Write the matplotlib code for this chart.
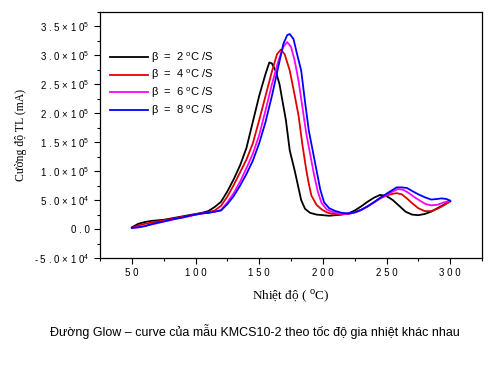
import matplotlib
matplotlib.use("Agg")
import matplotlib.pyplot as plt
from matplotlib.ticker import MultipleLocator, FuncFormatter

plt.rcParams["font.family"] = ["Liberation Sans", "DejaVu Sans"]
plt.rcParams["mathtext.fontset"] = "custom"
plt.rcParams["mathtext.rm"] = "Liberation Sans"
plt.rcParams["mathtext.it"] = "Liberation Sans:italic"

# nhiệt độ (°C) và cường độ TL (x1e4) của từng tốc độ gia nhiệt
t_b2 = [50, 55, 60, 65, 70, 75, 80, 85, 90, 95, 100, 105, 110, 115, 120, 125, 130, 135, 140,
        145, 150, 155, 158, 160, 163, 166, 168, 171, 174, 178, 181, 183, 186, 190, 195, 200,
        205, 210, 215, 220, 225, 230, 235, 240, 245, 250, 255, 260, 265, 270, 275, 280, 285,
        290, 295, 300]
i_b2 = [0.3, 0.9, 1.2, 1.4, 1.5, 1.6, 1.8, 2.0, 2.2, 2.4, 2.6, 2.8, 3.1, 3.8, 4.7, 6.5, 8.6,
        11.0, 14.0, 18.5, 23.0, 26.8, 28.8, 28.6, 27.3, 25.0, 22.5, 18.8, 13.6, 10.0, 7.0, 5.0,
        3.5, 2.8, 2.5, 2.4, 2.3, 2.4, 2.5, 2.7, 3.2, 3.9, 4.7, 5.4, 5.9, 5.7, 5.0, 4.0, 3.0,
        2.5, 2.4, 2.6, 3.0, 3.6, 4.2, 4.8]

t_b4 = [50, 55, 60, 65, 70, 75, 80, 85, 90, 95, 100, 105, 110, 115, 120, 125, 130, 135, 140,
        145, 150, 155, 160, 164, 167, 170, 174, 178, 181, 184, 187, 189, 191, 195, 199, 203,
        206, 210, 215, 220, 225, 230, 235, 240, 245, 250, 255, 258, 262, 266, 270, 275, 280,
        285, 290, 295, 300]
i_b4 = [0.2, 0.6, 0.9, 1.1, 1.3, 1.5, 1.7, 1.9, 2.1, 2.3, 2.5, 2.7, 2.9, 3.2, 4.0, 5.6, 7.6,
        9.8, 12.0, 14.8, 18.8, 23.0, 27.2, 30.2, 31.0, 30.2, 27.4, 23.0, 19.5, 14.5, 10.2,
        7.8, 5.8, 4.2, 3.4, 2.9, 2.7, 2.6, 2.6, 2.6, 2.9, 3.3, 3.9, 4.6, 5.3, 5.8, 6.1, 6.2,
        6.0, 5.3, 4.5, 3.6, 3.1, 3.1, 3.5, 4.1, 4.8]

t_b6 = [50, 55, 60, 65, 70, 75, 80, 85, 90, 95, 100, 105, 110, 115, 120, 125, 130, 135, 140,
        145, 150, 155, 160, 165, 169, 172, 175, 178, 181, 184, 187, 190, 193, 196, 199, 203,
        207, 212, 218, 222, 226, 230, 235, 240, 245, 250, 255, 259, 263, 267, 272, 277, 281,
        285, 290, 295, 300]
i_b6 = [0.2, 0.3, 0.5, 0.8, 1.0, 1.3, 1.5, 1.8, 2.0, 2.2, 2.5, 2.7, 2.8, 3.0, 3.3, 4.6, 6.2,
        8.2, 10.5, 13.0, 16.2, 20.5, 25.0, 29.0, 31.5, 32.3, 31.5, 29.0, 25.5, 21.0, 16.5,
        13.0, 9.5, 6.5, 4.5, 3.4, 3.0, 2.7, 2.6, 2.7, 2.9, 3.3, 3.9, 4.6, 5.3, 5.9, 6.5, 6.9,
        6.8, 6.3, 5.5, 4.8, 4.3, 4.1, 4.2, 4.6, 4.9]

t_b8 = [50, 55, 60, 65, 70, 75, 80, 85, 90, 95, 100, 105, 110, 115, 120, 125, 130, 135, 140,
        145, 150, 155, 160, 165, 169, 172, 174, 177, 180, 183, 186, 189, 192, 195, 198, 201,
        205, 210, 215, 220, 225, 230, 235, 240, 245, 250, 255, 258, 262, 266, 270, 275, 280,
        285, 290, 293, 297, 300]
i_b8 = [0.2, 0.3, 0.5, 0.8, 1.1, 1.3, 1.6, 1.8, 2.0, 2.3, 2.5, 2.7, 2.8, 3.0, 3.2, 4.3, 5.7,
        7.5, 9.5, 11.8, 14.8, 18.5, 23.0, 28.0, 32.0, 33.5, 33.7, 32.8, 30.0, 27.4, 22.0,
        17.0, 13.6, 10.2, 6.8, 4.6, 3.6, 3.1, 2.8, 2.7, 2.9, 3.3, 3.9, 4.6, 5.4, 6.1, 6.8,
        7.2, 7.2, 7.1, 6.6, 6.0, 5.5, 5.1, 5.2, 5.3, 5.2, 4.9]

series = [
    (t_b2, i_b2, "black", "2"),
    (t_b4, i_b4, "#e00000", "4"),
    (t_b6, i_b6, "#ff00ff", "6"),
    (t_b8, i_b8, "#0000ff", "8"),
]


def spaced(s):
    return " ".join(s)


def sci_fmt(v, pos):
    if abs(v) < 1:
        return spaced("0.0")
    e = len(str(int(abs(v)))) - 1
    m = v / 10 ** e
    return spaced(f"{m:.1f}×10") + f"$^{{{e}}}$"


fig = plt.figure(figsize=(5, 3.75), dpi=100)
ax = fig.add_axes([0.2, 0.312, 0.764, 0.656])

for t, i, c, b in series:
    ax.plot(t, [v * 1e4 for v in i], color=c, lw=1.3,
            label="β  =  " + b + r" $^{\mathrm{o}}$C /S")

ax.set_xlim(25, 325)
ax.set_ylim(-5e4, 3.75e5)
ax.xaxis.set_major_locator(MultipleLocator(50))
ax.xaxis.set_minor_locator(MultipleLocator(25))
ax.xaxis.set_major_formatter(FuncFormatter(lambda v, p: spaced(str(int(v)))))
ax.yaxis.set_major_locator(MultipleLocator(5e4))
ax.yaxis.set_minor_locator(MultipleLocator(2.5e4))
ax.yaxis.set_major_formatter(FuncFormatter(sci_fmt))
ax.tick_params(which="both", direction="out", labelsize=7, width=0.8)
ax.tick_params(which="major", length=4)
ax.tick_params(which="minor", length=2.5)
for s in ax.spines.values():
    s.set_linewidth(0.9)

ax.set_xlabel(r"Nhiệt độ ( $^{\mathrm{o}}$C)", family=["Liberation Serif", "DejaVu Serif"],
              fontsize=9.5, labelpad=7)
ax.set_ylabel("Cường độ TL (mA)", family=["Liberation Serif", "DejaVu Serif"], fontsize=8.5,
              labelpad=5)

ax.legend(loc="upper left", bbox_to_anchor=(0.0, 0.885), frameon=False, fontsize=8,
          handlelength=3.4, handletextpad=0.3, labelspacing=0.3)

fig.text(0.51, 0.115, "Đường Glow – curve của mẫu KMCS10-2 theo tốc độ gia nhiệt khác nhau",
         ha="center", va="center", fontsize=9)

fig.savefig("out.png", dpi=100)
